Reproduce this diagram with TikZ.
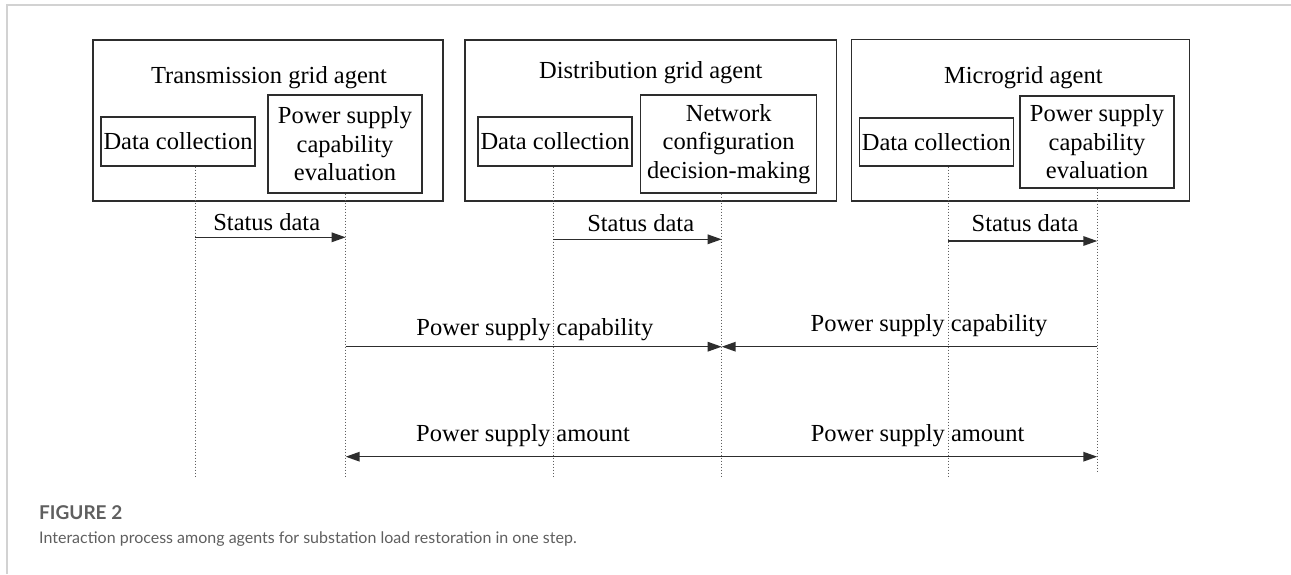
\documentclass[tikz,border=0pt]{standalone}
\usepackage{fontspec}
\setmainfont{Liberation Serif}
\newfontfamily\capfont{Lato}
\usetikzlibrary{arrows.meta}

\definecolor{framegray}{RGB}{210,210,210}
\definecolor{linegray}{RGB}{45,45,45}
\definecolor{dotgray}{RGB}{95,95,95}
\definecolor{capgray}{RGB}{95,95,95}

\providecommand*{\yBottom}{}
\providecommand*{\ySubBottom}{}
\providecommand*{\yCap}{}
\providecommand*{\yAmount}{}
\renewcommand*{\yBottom}{477}
\renewcommand*{\ySubBottom}{472}
\renewcommand*{\yCap}{346.7}
\renewcommand*{\yAmount}{456.7}

\tikzset{
  agentbox/.style={draw=linegray, line width=1.2pt, inner sep=0pt},
  agenttitle/.style={anchor=base, inner sep=0pt, font=\fontsize{24.5}{29}\selectfont},
  taskbox/.style={draw=linegray, line width=1.2pt, inner sep=0pt, align=center,
    minimum width=154pt, font=\fontsize{24.5}{28.6}\selectfont},
  lifeline/.style={draw=dotgray, line width=1pt, dash pattern=on 1.5pt off 1.5pt},
  msg/.style={draw=linegray, line width=1.5pt, -{Triangle[length=14pt,width=9.5pt]}},
  msgboth/.style={msg, {Triangle[length=14pt,width=9.5pt]}-{Triangle[length=14pt,width=9.5pt]}},
  msglabel/.style={inner sep=0pt, font=\fontsize{24.5}{29}\selectfont}
}

\begin{document}
\begin{tikzpicture}[x=1pt, y=-1pt]
  \useasboundingbox (0,0) rectangle (1291,574);
  \draw [framegray, line width=1.5pt] (7,574) -- (7,5) -- (1291,5);

  \node [agentbox, minimum width=350pt, minimum height=161pt] (tagent) at (268,120.5) {};
  \node [agentbox, minimum width=371.7pt, minimum height=161pt] (dagent) at (650.8,120.5) {};
  \node [agentbox, minimum width=337.6pt, minimum height=161.5pt] (magent) at (1020.5,120.3) {};

  \node [agenttitle] (ttitle) at (269,83) {Transmission grid agent};
  \node [agenttitle] (dtitle) at (650.8,78.5) {Distribution grid agent};
  \node [agenttitle] (mtitle) at (1023.3,83) {Microgrid agent};

  \node [taskbox, minimum height=49pt] (tdata) at (178,141.5) {Data collection};
  \node [taskbox, minimum height=98pt] (teval) at (345,144) {Power supply\\capability\\evaluation};
  \node [taskbox, minimum height=49pt] (ddata) at (555,141.5) {Data collection};
  \node [taskbox, minimum width=176pt, minimum height=98pt] (dnet) at (728.7,144) {Network\\configuration\\decision-making};
  \node [taskbox, minimum height=48pt] (mdata) at (936.3,142) {Data collection};
  \node [taskbox, minimum height=92pt] (meval) at (1097,142) {Power supply\\capability\\evaluation};

  \coordinate (tdl) at (195,\yBottom);
  \coordinate (tel) at (345.7,\yBottom);
  \coordinate (ddl) at (553,\yBottom);
  \coordinate (dnl) at (721.7,\yBottom);
  \coordinate (mdl) at (948.3,\yBottom);
  \coordinate (mel) at (1097.3,\ySubBottom);

  \foreach \task/\life in {tdata/tdl,teval/tel,ddata/ddl,dnet/dnl,mdata/mdl,meval/mel} {
    \draw [lifeline] (\task.south -| \life) -- (\life);
  }

  \draw [msg] (tdl |- 0,237.3) -- node [msglabel, above=5.5pt, pos=0.476] {Status data} (tel |- 0,237.3);
  \draw [msg] (ddl |- 0,239.3) -- node [msglabel, above=7pt, pos=0.52] {Status data} (dnl |- 0,239.3);
  \draw [msg] (mdl |- 0,241) -- node [msglabel, above=9pt, pos=0.515] {Status data} (mel |- 0,241);

  \draw [msg] (tel |- 0,\yCap) -- node [msglabel, above=5pt, pos=0.503] {Power supply capability} (dnl |- 0,\yCap);
  \draw [msg] (mel |- 0,\yCap) -- node [msglabel, above=9pt, pos=0.448] {Power supply capability} (dnl |- 0,\yCap);

  \draw [msgboth] (tel |- 0,\yAmount) -- node [msglabel, above=9pt, pos=0.236] {Power supply amount}
    node [msglabel, above=9pt, pos=0.761] {Power supply amount} (mel |- 0,\yAmount);

  \node [anchor=base west, inner sep=0pt, text=capgray, font=\capfont\bfseries\fontsize{19}{22}\selectfont] (fignum) at (39,519) {FIGURE 2};
  \node [anchor=base west, inner sep=0pt, text=capgray, font=\capfont\fontsize{16}{19}\selectfont] (figcap) at (39,543) {Interaction process among agents for substation load restoration in one step.};
\end{tikzpicture}
\end{document}
